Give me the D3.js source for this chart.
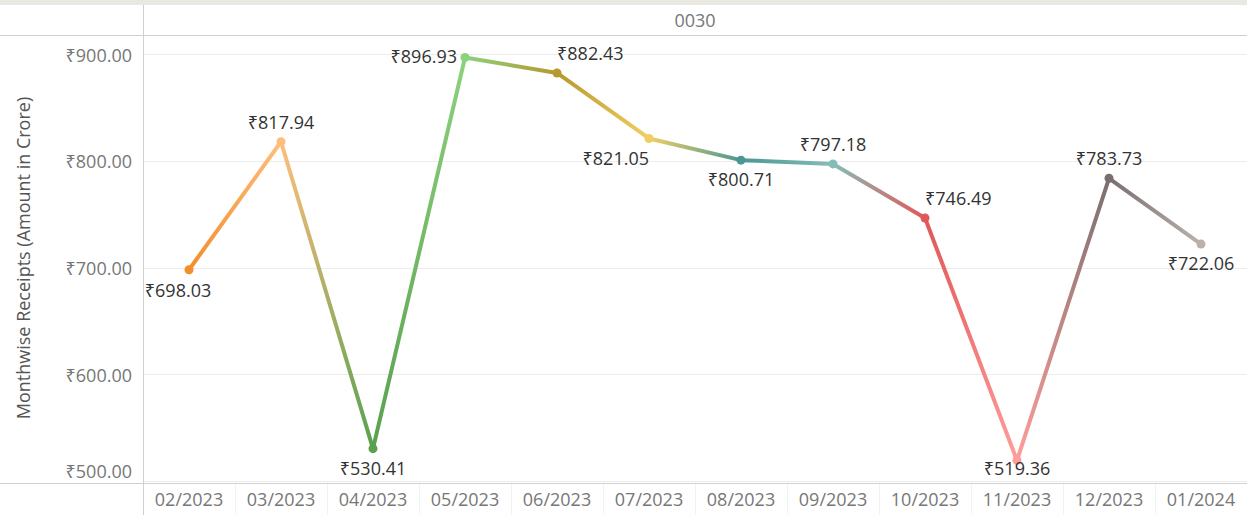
<!DOCTYPE html>
<html>
<head>
<meta charset="utf-8">
<script src="https://cdn.jsdelivr.net/npm/d3@7"></script>
<style>
  body { margin: 0; background: #fff; }
  svg text { font-family: "Open Sans", "Noto Sans", sans-serif; }
</style>
</head>
<body>
<svg id="chart"></svg>
<script>
// data
const months = ["02/2023", "03/2023", "04/2023", "05/2023", "06/2023", "07/2023",
                "08/2023", "09/2023", "10/2023", "11/2023", "12/2023", "01/2024"];
const receipts = [698.03, 817.94, 530.41, 896.93, 882.43, 821.05,
                  800.71, 797.18, 746.49, 519.36, 783.73, 722.06];
const pointColors = ["#F28E2B", "#FFBE7D", "#59A14F", "#8CD17D", "#B6992D", "#F1CE63",
                     "#499894", "#86BCB6", "#E15759", "#FF9D9A", "#79706E", "#BAB0AC"];
const labelSpots = ["belowWide", "above", "below", "left", "aboveRight", "belowLeft",
                    "below", "above", "aboveRight", "below", "above", "below"];
const yTicks = [500, 600, 700, 800, 900];
const paneTitle = "0030";
const yTitle = "Monthwise Receipts (Amount in Crore)";

const W = 1247, H = 515;
const pane = {left: 143, top: 35, right: 1247, bottom: 483};
const fs = 18;

const svg = d3.select("#chart").attr("width", W).attr("height", H);

// light strip at top
svg.append("rect").attr("x", 0).attr("y", 0).attr("width", W).attr("height", 5)
    .attr("fill", "#e9e9e1");

const x = d3.scaleBand().domain(months).range([pane.left, pane.right]);
const y = d3.scaleLinear().domain([498.2, 918]).range([pane.bottom, pane.top]);
const cx = d => x(d) + x.bandwidth() / 2;

// gridlines
svg.append("g").selectAll("line").data(yTicks).join("line")
    .attr("x1", pane.left).attr("x2", pane.right)
    .attr("y1", d => Math.round(y(d)) + 0.5).attr("y2", d => Math.round(y(d)) + 0.5)
    .attr("stroke", "#ececec");

// frame lines
const frame = svg.append("g").attr("stroke", "#d0d0d0").attr("shape-rendering", "crispEdges");
frame.append("line").attr("x1", pane.left + 0.5).attr("x2", pane.left + 0.5).attr("y1", 5).attr("y2", H);
frame.append("line").attr("x1", 0).attr("x2", W).attr("y1", pane.top + 0.5).attr("y2", pane.top + 0.5);
frame.append("line").attr("x1", 0).attr("x2", W).attr("y1", pane.bottom + 0.5).attr("y2", pane.bottom + 0.5);

// faint separators between month labels
svg.append("g").selectAll("line").data(months.slice(1)).join("line")
    .attr("x1", d => x(d) + 0.5).attr("x2", d => x(d) + 0.5)
    .attr("y1", pane.bottom + 1).attr("y2", H)
    .attr("stroke", "#f2f2f2");

// pane header
svg.append("text")
    .attr("x", (pane.left + pane.right) / 2).attr("y", 20)
    .attr("text-anchor", "middle").attr("dominant-baseline", "central")
    .attr("font-size", fs).attr("fill", "#777")
    .text(paneTitle);

// y axis
const fmt = v => "₹" + d3.format(",.2f")(v);
const yAxis = d3.axisLeft(y).tickValues(yTicks).tickSize(0).tickPadding(11).tickFormat(fmt);
const yg = svg.append("g").attr("transform", `translate(${pane.left},0)`).call(yAxis);
yg.select(".domain").remove();
yg.selectAll("text")
    .attr("font-size", fs).attr("fill", "#777").attr("font-family", null)
    .attr("dy", null).attr("dominant-baseline", "central")
    .attr("y", d => Math.min(y(d), pane.bottom - 13) - y(d));

svg.append("text")
    .attr("transform", `translate(23,258) rotate(-90)`)
    .attr("text-anchor", "middle").attr("dominant-baseline", "central")
    .attr("font-size", fs).attr("fill", "#555")
    .text(yTitle);

// x axis
const xAxis = d3.axisBottom(x).tickSize(0).tickPadding(0);
const xg = svg.append("g").attr("transform", `translate(0,${pane.bottom})`).call(xAxis);
xg.select(".domain").remove();
xg.selectAll("text")
    .attr("font-size", fs).attr("fill", "#777").attr("font-family", null)
    .attr("dy", null).attr("y", 16).attr("dominant-baseline", "central");

// line with gradient segments
const pts = months.map((m, i) => ({m, v: receipts[i], c: pointColors[i], spot: labelSpots[i]}));
const defs = svg.append("defs");
const segs = d3.pairs(pts);
segs.forEach((s, i) => {
    const g = defs.append("linearGradient").attr("id", "seg" + i)
        .attr("gradientUnits", "userSpaceOnUse")
        .attr("x1", cx(s[0].m)).attr("y1", y(s[0].v))
        .attr("x2", cx(s[1].m)).attr("y2", y(s[1].v));
    g.append("stop").attr("offset", "0%").attr("stop-color", s[0].c);
    g.append("stop").attr("offset", "100%").attr("stop-color", s[1].c);
});
svg.append("g").selectAll("line").data(segs).join("line")
    .attr("x1", d => cx(d[0].m)).attr("y1", d => y(d[0].v))
    .attr("x2", d => cx(d[1].m)).attr("y2", d => y(d[1].v))
    .attr("stroke", (d, i) => `url(#seg${i})`)
    .attr("stroke-width", 4).attr("stroke-linecap", "round");

svg.append("g").selectAll("circle").data(pts).join("circle")
    .attr("cx", d => cx(d.m)).attr("cy", d => y(d.v)).attr("r", 4.5)
    .attr("fill", d => d.c);

// mark labels
const spots = {
    above:      {dx: 0,   dy: -20, anchor: "middle"},
    below:      {dx: 0,   dy: 19,  anchor: "middle"},
    belowWide:  {dx: -11, dy: 20,  anchor: "middle"},
    left:       {dx: -8,  dy: -1,  anchor: "end"},
    aboveRight: {dx: 0,   dy: -20, anchor: "start"},
    belowLeft:  {dx: 0,   dy: 20,  anchor: "end"}
};
const labels = svg.append("g").selectAll("text").data(pts).join("text")
    .attr("font-size", fs).attr("fill", "#333")
    .attr("dominant-baseline", "central")
    .attr("text-anchor", d => spots[d.spot].anchor)
    .attr("x", d => cx(d.m) + spots[d.spot].dx)
    .attr("y", d => Math.min(y(d.v) + spots[d.spot].dy, pane.bottom - 15))
    .text(d => fmt(d.v));

// keep labels inside the pane horizontally
labels.each(function() {
    const b = this.getBBox();
    let shift = 0;
    if (b.x + b.width > pane.right) shift = pane.right - (b.x + b.width);
    if (b.x < pane.left) shift = pane.left - b.x;
    if (shift) d3.select(this).attr("x", +d3.select(this).attr("x") + shift);
});
</script>
</body>
</html>
